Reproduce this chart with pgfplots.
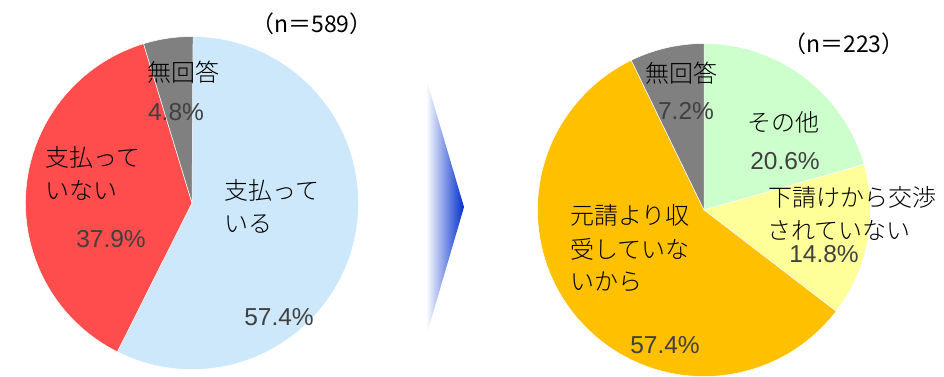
\documentclass[border=0pt]{standalone}
\usepackage{pgfplots}
\pgfplotsset{compat=1.18}
\usepackage{pgfplotstable}
\usepackage{fontspec}
\setmainfont{Liberation Sans}
\newfontfamily\jp{Noto Sans CJK JP}[UprightFont={* Light}]
\newfontfamily\jpn{Noto Sans CJK JP}
\definecolor{slice1}{RGB}{204,232,250}
\definecolor{slice2}{RGB}{255,77,77}
\definecolor{slice3}{RGB}{128,128,128}
\definecolor{slice4}{RGB}{204,255,204}
\definecolor{slice5}{RGB}{255,255,153}
\definecolor{slice6}{RGB}{255,192,0}
\definecolor{cPct}{RGB}{64,64,64}
\definecolor{cArrow}{RGB}{0,45,205}

\pgfplotstableread{
x y start pct color
0 0 0    57.4 1
0 0 57.4 37.9 2
0 0 95.3 4.8  3
}\leftdata
\pgfplotstableread{
x y start pct color
0 0 0    20.6 4
0 0 20.6 14.8 5
0 0 35.4 57.4 6
0 0 92.8 7.2  3
}\rightdata

\def\pieR{166.5pt}
\pgfplotsset{
  pie/.style={
    scatter, only marks, mark=*, mark size=0pt,
    mark options={draw=none, fill=none},
    point meta=\thisrow{pct},
    visualization depends on={\thisrow{start}\as\sstart},
    visualization depends on={\thisrow{pct}\as\spct},
    visualization depends on={\thisrow{color}\as\scol},
    scatter/@pre marker code/.code={%
      \pgfmathsetmacro\angA{90-3.6*\sstart}%
      \pgfmathsetmacro\angB{90-3.6*(\sstart+\spct)}%
      \pgfmathtruncatemacro\ci{\scol}%
      \fill[fill=slice\ci, draw=white, line width=0.5pt] (0pt,0pt) -- (\angA:\pieR) arc[start angle=\angA, end angle=\angB, radius=\pieR] -- cycle;
    },
    scatter/@post marker code/.code={},
  },
  pieaxis/.style={hide axis, x=1pt, y=1pt, xmin=-1, xmax=1, ymin=-1, ymax=1, clip=false, anchor=center}
}
\newcommand\jpf{\jp\fontsize{24}{30}\selectfont}
\newcommand\nf{\jpn\fontsize{23}{26}\selectfont}
\newcommand\pf{\fontsize{24.5}{30}\selectfont\color{cPct}}

\begin{document}
\begin{tikzpicture}
\useasboundingbox (0pt,0pt) rectangle (944pt,377pt);
\begin{axis}[pieaxis, at={(192pt,174pt)}]
\addplot[pie] table {\leftdata};
\end{axis}
\begin{axis}[pieaxis, at={(704pt,167pt)}]
\addplot[pie] table {\rightdata};
\end{axis}
% arrow
\shade[left color=white, right color=cArrow] (426pt,299pt) -- (464pt,170pt) -- (426pt,40pt) -- cycle;
% left labels
\begin{scope}[every node/.style={inner sep=0pt}]
\node[anchor=base, font=\nf] at (312pt,344pt) {（n＝589）};
\node[anchor=base, font=\jpf] at (183pt,295pt) {無回答};
\node[anchor=base, font=\pf] at (176pt,256pt) {4.8\%};
\node[anchor=base west, font=\jpf] at (45pt,210pt) {支払って};
\node[anchor=base west, font=\jpf] at (45pt,177pt) {いない};
\node[anchor=base, font=\pf] at (111pt,129pt) {37.9\%};
\node[anchor=base west, font=\jpf] at (224pt,177pt) {支払って};
\node[anchor=base west, font=\jpf] at (224pt,144pt) {いる};
\node[anchor=base, font=\pf] at (279pt,51pt) {57.4\%};
% right labels
\node[anchor=base, font=\nf] at (844pt,324pt) {（n＝223）};
\node[anchor=base, font=\jpf] at (681pt,294pt) {無回答};
\node[anchor=base, font=\pf] at (686pt,257pt) {7.2\%};
\node[anchor=base, font=\jpf] at (783pt,245pt) {その他};
\node[anchor=base, font=\pf] at (785pt,207pt) {20.6\%};
\node[anchor=base west, font=\jpf] at (768pt,170pt) {下請けから交渉};
\node[anchor=base west, font=\jpf] at (767pt,137pt) {されていない};
\node[anchor=base, font=\pf] at (824pt,114pt) {14.8\%};
\node[anchor=base west, font=\jpf] at (570pt,152pt) {元請より収};
\node[anchor=base west, font=\jpf] at (570pt,118pt) {受していな};
\node[anchor=base west, font=\jpf] at (570pt,86pt) {いから};
\node[anchor=base, font=\pf] at (665pt,23pt) {57.4\%};
\end{scope}
\end{tikzpicture}
\end{document}
